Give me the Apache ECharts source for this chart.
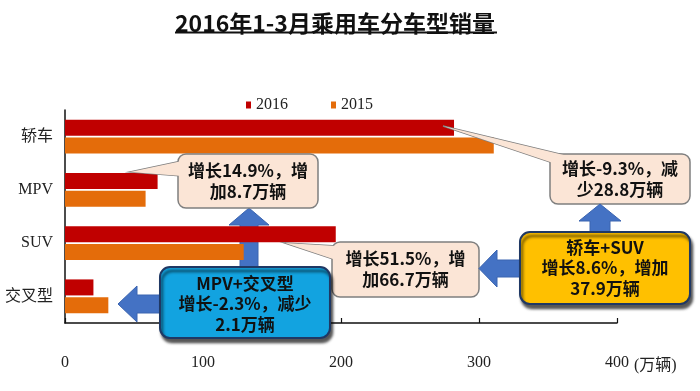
<!DOCTYPE html>
<html><head><meta charset="utf-8">
<script src="https://cdn.jsdelivr.net/npm/echarts@6/dist/echarts.min.js"></script>
<style>html,body{margin:0;padding:0;background:#fff;}#c{width:700px;height:391px;}</style>
</head><body><div id="c"></div>
<script>
var categories = ['轿车', 'MPV', 'SUV', '交叉型'];
var sales2016 = [281.9, 67.1, 196.2, 20.6];
var sales2015 = [310.7, 58.4, 129.5, 31.4];
var seriesNames = ['2016', '2015'];
var xTicks = [0, 100, 200, 300, 400];
var unitName = '(万辆)';
var titleText = '2016年1-3月乘用车分车型销量';
var noteA = ['增长14.9%，增', '加8.7万辆'];
var noteB = ['增长-9.3%，减', '少28.8万辆'];
var noteC = ['增长51.5%，增', '加66.7万辆'];
var noteD = ['轿车+SUV', '增长8.6%，增加', '37.9万辆'];
var noteE = ['MPV+交叉型', '增长-2.3%，减少', '2.1万辆'];

var CJK = '"Noto Sans CJK SC"';
var SERIF = '"Liberation Serif", "Noto Sans CJK SC"';
var PEACH = '#FBE5D6', GREY = '#7F7F7F', BLUEA = '#4472C4', BLUEA_E = '#3A64B0';

function callout(box, ptr, lines, cy) {
  var els = [];
  els.push({type:'polygon', z:100, shape:{points:ptr}, style:{fill:PEACH, stroke:GREY, lineWidth:1.5}});
  els.push({type:'rect', z:101, shape:{x:box[0], y:box[1], width:box[2], height:box[3], r:8}, style:{fill:PEACH, stroke:GREY, lineWidth:1.5}});
  els.push({type:'polygon', z:102, shape:{points:ptr}, style:{fill:PEACH}});
  els.push({type:'text', z:103, style:{text:lines.join('\n'), x:box[0]+box[2]/2, y:cy, align:'center', verticalAlign:'middle', font:'bold 17px ' + CJK, lineHeight:21, fill:'#111'}});
  return els;
}
function bigBox(box, fill, stroke, lines, cy) {
  return [
    {type:'rect', z:110, shape:{x:box[0], y:box[1], width:box[2], height:box[3], r:10},
     style:{fill:fill, stroke:stroke, lineWidth:2, shadowBlur:3, shadowOffsetX:2, shadowOffsetY:4, shadowColor:'rgba(0,0,0,0.65)'}},
    {type:'text', z:111, style:{text:lines.join('\n'), x:box[0]+box[2]/2, y:cy, align:'center', verticalAlign:'middle', font:'bold 17px ' + CJK, lineHeight:20.5, fill:'#111'}}
  ];
}
function arrow(pts, z) {
  return {type:'polygon', z:z, shape:{points:pts}, style:{fill:BLUEA, stroke:BLUEA_E, lineWidth:1}};
}

var graphics = [];
graphics.push({type:'line', z:100, shape:{x1:175, y1:32.5, x2:497, y2:32.5}, style:{stroke:'#111', lineWidth:2}});
graphics.push({type:'text', z:100, style:{text:unitName, x:634, y:366, align:'left', verticalAlign:'middle', font:'16px ' + SERIF, fill:'#222'}});
graphics.push(arrow([[600,204],[621,221],[610,221],[610,234],[590,234],[590,221],[579,221]], 105));
graphics.push(arrow([[479,268.5],[497,250],[497,260],[522,260],[522,277],[497,277],[497,287]], 105));
graphics.push(arrow([[249,208],[269,225],[258,225],[258,269],[240,269],[240,225],[229,225]], 1));
graphics.push(arrow([[118,304],[137,286],[137,295],[162,295],[162,313],[137,313],[137,322]], 105));
graphics = graphics.concat(callout([178,154,140,54], [[130,172],[182,161],[182,176]], noteA, 181));
graphics = graphics.concat(callout([550,154,140,50], [[443,126],[556,164],[572,157]], noteB, 179));
graphics = graphics.concat(callout([332,242,147,55], [[285,243],[336,246],[336,260]], noteC, 269.5));
graphics = graphics.concat(bigBox([520,232,170,72], '#FFC000', '#1F3864', noteD, 268));
graphics = graphics.concat(bigBox([160,267,170,71], '#12A3E0', '#1F3864', noteE, 304));

var chart = echarts.init(document.getElementById('c'));
chart.setOption({
  animation: false,
  backgroundColor: '#fff',
  title: {text: titleText, left: 170, top: 7,
    textStyle: {fontFamily: CJK, fontSize: 23, fontWeight: 'bold', color: '#111'}},
  legend: {data: seriesNames, left: 241, top: 92, itemWidth: 5, itemHeight: 7, itemGap: 43, icon: 'rect',
    textStyle: {fontFamily: SERIF, fontSize: 16, color: '#222', padding: [4,0,0,0]}},
  grid: {left: 65, right: 83, top: 110, bottom: 68, containLabel: false},
  xAxis: {type: 'value', min: xTicks[0], max: xTicks[xTicks.length-1], interval: 100,
    axisLine: {show: true, lineStyle: {color: '#111', width: 1.5}},
    axisTick: {show: true, inside: true, length: 5, lineStyle: {color: '#111', width: 1.2}},
    axisLabel: {margin: 32, fontFamily: SERIF, fontSize: 16, color: '#222'},
    splitLine: {show: false}},
  yAxis: {type: 'category', data: categories, inverse: true,
    axisLine: {show: true, lineStyle: {color: '#111', width: 1.5}},
    axisTick: {show: false},
    axisLabel: {margin: 12, fontFamily: SERIF, fontSize: 16, color: '#222'}},
  series: [
    {name: seriesNames[0], type: 'bar', data: sales2016, barWidth: 16, barGap: '12%', itemStyle: {color: '#C00000'}, z: 2},
    {name: seriesNames[1], type: 'bar', data: sales2015, barWidth: 16, barGap: '12%', itemStyle: {color: '#E46C0A'}, z: 2}
  ],
  graphic: graphics
});
</script></body></html>
